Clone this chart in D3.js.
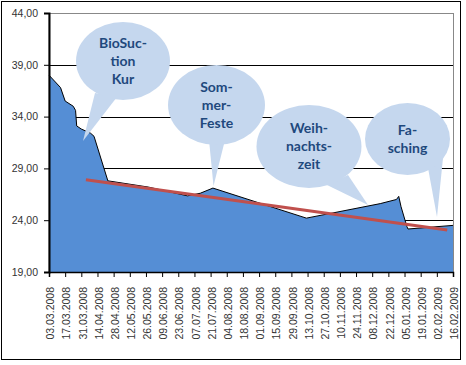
<!DOCTYPE html>
<html>
<head>
  <meta charset="utf-8">
  <script src="https://d3js.org/d3.v7.min.js"></script>
  <style>
    body { margin: 0; background: #fff; }
    .axis text { font-family: "Liberation Sans", Arial, sans-serif; font-size: 10.5px; fill: #333; }
    .bubble text { font-family: Lato, "Open Sans", sans-serif; font-weight: bold; font-size: 14px; fill: #1f497d; }
  </style>
</head>
<body>
  <svg id="chart" width="466" height="365"></svg>
  <script>
    // measurement dates and values
    var dates = ["03.03.2008","13.03.2008","17.03.2008","24.03.2008","26.03.2008","27.03.2008",
                 "31.03.2008","08.04.2008","11.04.2008","23.04.2008","28.05.2008","01.07.2008",
                 "12.07.2008","23.07.2008","12.10.2008","15.12.2008","29.12.2008","31.12.2008",
                 "02.01.2009","07.01.2009","08.01.2009","16.02.2009"];
    var values = [38.0, 36.8, 35.5, 35.0, 34.6, 33.1,
                  32.8, 32.4, 32.1, 27.8, 27.2, 26.35,
                  26.6, 27.1, 24.2, 25.6, 26.0, 26.3,
                  25.3, 23.4, 23.15, 23.5];

    // linear trend
    var trendDates = ["04.04.2008", "11.02.2009"];
    var trendValues = [27.9, 23.05];

    var tickLabels = ["03.03.2008","17.03.2008","31.03.2008","14.04.2008","28.04.2008","12.05.2008",
                      "26.05.2008","09.06.2008","23.06.2008","07.07.2008","21.07.2008","04.08.2008",
                      "18.08.2008","01.09.2008","15.09.2008","29.09.2008","13.10.2008","27.10.2008",
                      "10.11.2008","24.11.2008","08.12.2008","22.12.2008","05.01.2009","19.01.2009",
                      "02.02.2009","16.02.2009"];
    var yTicks = [19, 24, 29, 34, 39, 44];

    var bubbleTexts = [["BioSuc-","tion","Kur"], ["Som-","mer-","Feste"], ["Weih-","nachts-","zeit"], ["Fa-","sching"]];

    var parse = d3.timeParse("%d.%m.%Y");
    var data = dates.map(function (d, i) { return { date: parse(d), v: values[i] }; });
    var trend = trendDates.map(function (d, i) { return { date: parse(d), v: trendValues[i] }; });
    var tickDates = tickLabels.map(parse);

    var svg = d3.select("#chart");
    var plotL = 49, plotR = 453, plotT = 13, plotB = 272;

    var x = d3.scaleTime().domain([tickDates[0], tickDates[tickDates.length - 1]]).range([plotL, plotR]);
    var y = d3.scaleLinear().domain([19, 44]).range([plotB, plotT]);

    // outer frame
    svg.append("rect").attr("x", 1.5).attr("y", 1.5).attr("width", 459).attr("height", 358)
      .attr("fill", "#fff").attr("stroke", "#000");

    // plot frame + grid
    svg.append("rect").attr("x", plotL).attr("y", plotT + 0.5).attr("width", plotR - plotL + 0.5).attr("height", plotB - plotT)
      .attr("fill", "none").attr("stroke", "#888");
    svg.append("g").selectAll("line").data(yTicks.slice(1, 5)).enter().append("line")
      .attr("x1", plotL).attr("x2", plotR)
      .attr("y1", function (d) { return Math.round(y(d)) + 0.5; })
      .attr("y2", function (d) { return Math.round(y(d)) + 0.5; })
      .attr("stroke", "#000");

    // area
    var area = d3.area().x(function (d) { return x(d.date); }).y0(y(19)).y1(function (d) { return y(d.v); });
    var line = d3.line().x(function (d) { return x(d.date); }).y(function (d) { return y(d.v); });
    svg.append("path").datum(data).attr("d", area).attr("fill", "#558ed5");
    svg.append("path").datum(data).attr("d", line).attr("fill", "none").attr("stroke", "#000").attr("stroke-width", 1);

    // trend line
    svg.append("path").datum(trend).attr("d", line).attr("fill", "none")
      .attr("stroke", "#c0504d").attr("stroke-width", 3);

    // axes
    var yAxis = d3.axisLeft(y).tickValues(yTicks).tickSize(5).tickPadding(6)
      .tickFormat(function (d) { return d3.format(".2f")(d).replace(".", ","); });
    var gy = svg.append("g").attr("class", "axis").attr("transform", "translate(" + plotL + ",0)").call(yAxis);
    gy.select(".domain").attr("stroke-width", 2);

    var xAxis = d3.axisBottom(x).tickValues(tickDates).tickSize(5).tickFormat(function (d, i) { return tickLabels[i]; });
    var gx = svg.append("g").attr("class", "axis").attr("transform", "translate(0," + plotB + ")").call(xAxis);
    gx.select(".domain").attr("stroke-width", 1.5);
    gx.selectAll("text").attr("transform", "rotate(-90)").attr("text-anchor", "end")
      .attr("x", -15).attr("y", 1).attr("dy", "0.35em");

    // speech bubbles (layout in pixels)
    var bubbles = [
      { cx: 123, cy: 61, rx: 47, ry: 39, base: [[95, 93], [117, 97]], tip: [83, 141] },
      { cx: 216.5, cy: 105, rx: 48.5, ry: 40, base: [[209, 140], [225, 140]], tip: [213.5, 186] },
      { cx: 309, cy: 146.5, rx: 52.5, ry: 41.5, base: [[327, 185], [348, 175]], tip: [368, 205] },
      { cx: 407.5, cy: 139, rx: 42.5, ry: 36, base: [[428, 168], [443, 158]], tip: [437, 217] }
    ];
    var gb = svg.append("g").attr("class", "bubble").selectAll("g").data(bubbles).enter().append("g");
    gb.append("path").attr("d", function (b) {
      return "M" + b.base[0] + "L" + b.tip + "L" + b.base[1] + "Z";
    }).attr("fill", "#c5d7ee");
    gb.append("ellipse").attr("cx", function (b) { return b.cx; }).attr("cy", function (b) { return b.cy; })
      .attr("rx", function (b) { return b.rx; }).attr("ry", function (b) { return b.ry; }).attr("fill", "#c5d7ee");
    gb.each(function (b, i) {
      var lines = bubbleTexts[i];
      var y0 = b.cy - (lines.length - 1) * 9;
      d3.select(this).selectAll("text").data(lines).enter().append("text")
        .attr("x", b.cx).attr("y", function (t, j) { return y0 + j * 18; })
        .attr("dy", "0.35em").attr("text-anchor", "middle").text(function (t) { return t; });
    });
  </script>
</body>
</html>
